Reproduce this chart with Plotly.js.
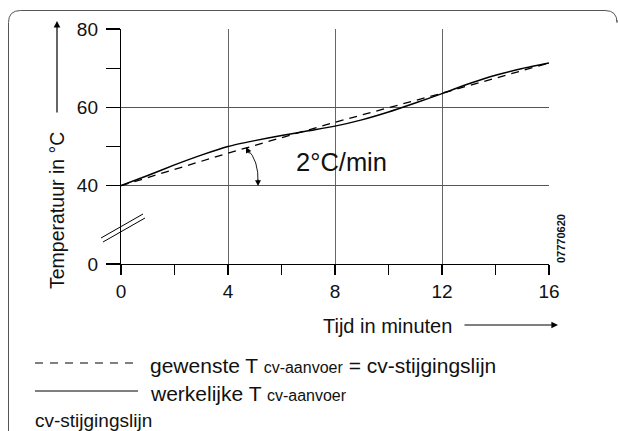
<!DOCTYPE html>
<html>
<head>
<meta charset="utf-8">
<script src="https://cdn.plot.ly/plotly-3.0.1.min.js"></script>
<style>html,body{margin:0;padding:0;background:#fff;}#chart{width:618px;height:431px;}</style>
</head>
<body>
<div id="chart"></div>
<script>
// ---- data ----
const timeMinutes = [0,1,2,3,4,5,6,7,8,9,10,11,12,13,14,15,16];
const actualTemp  = [40,42.6,45.3,47.8,50,51.5,52.8,54,55.2,56.8,58.8,61.1,63.5,66,68.2,69.9,71.3];
const desiredTime = [0,4,8,12,16];
const desiredTemp = [40,48.3,56.2,63.6,71.3];
const xTickVals = [0,4,8,12,16];
const xMinorVals = [2,6,10,14];
const yTickVals = [20,40,60,80];      // broken axis: the lowest grid step stands for 0
const yTickText = ['0','40','60','80'];
const yMinorVals = [50,70];

const FONT = '"Liberation Sans", Arial, Helvetica, sans-serif';
const L = 121, T = 29, PW = 428, PH = 235;
const px = x => (x - L) / PW;
const py = y => (T + PH - y) / PH;

const traces = [
  {x: desiredTime, y: desiredTemp, mode: 'lines', type: 'scatter',
   line: {color: '#000', width: 1.3, dash: '8px,6px'}, hoverinfo: 'skip'},
  {x: timeMinutes, y: actualTemp, mode: 'lines', type: 'scatter',
   line: {color: '#000', width: 1.5, shape: 'spline', smoothing: 0.6}, hoverinfo: 'skip'}
];

function seg(x0, y0, x1, y1, extra) {
  return Object.assign({type: 'line', xref: 'paper', yref: 'paper',
    x0: px(x0), y0: py(y0), x1: px(x1), y1: py(y1),
    line: {color: '#000', width: 1}}, extra || {});
}
function P(x, y) { return px(x).toFixed(5) + ',' + py(y).toFixed(5); }

const r = 12;
const borderPath = 'M ' + P(8.5, 433) + ' L ' + P(8.5, 10.5 + r) +
  ' Q ' + P(8.5, 10.5) + ' ' + P(8.5 + r, 10.5) +
  ' L ' + P(617 - r, 10.5) + ' Q ' + P(617, 10.5) + ' ' + P(617, 10.5 + r) + ' L ' + P(617, 20);

const shapes = [
  {type: 'path', xref: 'paper', yref: 'paper', path: borderPath, line: {color: '#555', width: 1}},
  // axis break marks
  seg(101, 238, 143, 214, {line: {color: '#000', width: 1}}),
  seg(103, 242, 145, 218, {line: {color: '#000', width: 1}}),
  // arc of the 2°C/min annotation
  {type: 'path', xref: 'paper', yref: 'paper',
   path: 'M ' + P(247, 149) + ' Q ' + P(259, 160) + ' ' + P(258, 183),
   line: {color: '#000', width: 0.9}},
  // legend line samples
  seg(35, 363, 137, 363, {line: {color: '#000', width: 1, dash: '8px,7px'}}),
  seg(35, 391, 138, 391, {line: {color: '#000', width: 1}})
];

function arrow(hx, hy, ax, ay, w, size) {
  return {xref: 'paper', yref: 'paper', x: px(hx), y: py(hy), ax: ax, ay: ay,
    axref: 'pixel', ayref: 'pixel', text: '', showarrow: true,
    arrowhead: 2, arrowsize: size || 1, arrowwidth: w || 1.2, arrowcolor: '#000', standoff: 0};
}
function txt(t, x, y, size, extra) {
  return Object.assign({xref: 'paper', yref: 'paper', x: px(x), y: py(y), text: t,
    showarrow: false, xanchor: 'left', yanchor: 'middle',
    font: {family: FONT, size: size, color: '#111'}}, extra || {});
}

const annotations = [
  arrow(57, 21, 0, 93, 1.2, 1.1),
  arrow(558, 325, -95, 0, 1.2, 1.1),
  arrow(246, 147, 4, 8, 0.9, 1.3),
  arrow(258, 186, 0, -8, 0.9, 1.3),
  txt('Temperatuur in °C', 57, 211, 19.5, {textangle: -90, xanchor: 'center'}),
  txt('Tijd in minuten', 387, 326, 20, {xanchor: 'center'}),
  txt('2°C/min', 341, 162, 25.5, {xanchor: 'center'}),
  txt('07770620', 561, 239, 11, {textangle: -90, xanchor: 'center', font: {family: FONT, size: 11, color: '#111', weight: 'bold'}}),
  txt('gewenste T <span style="font-size:16px">cv-aanvoer</span> = cv-stijgingslijn', 148, 365, 21),
  txt('werkelijke T <span style="font-size:16px">cv-aanvoer</span>', 148, 393, 21),
  txt('cv-stijgingslijn', 33, 420, 19)
];

const layout = {
  width: 618, height: 431,
  margin: {l: L, r: 618 - L - PW, t: T, b: 431 - T - PH, pad: 0},
  paper_bgcolor: '#fff', plot_bgcolor: '#fff',
  showlegend: false,
  font: {family: FONT, color: '#111'},
  xaxis: {
    range: [0, 16], tickvals: xTickVals, ticks: 'outside', ticklen: 10, tickwidth: 1.2, tickcolor: '#000',
    showline: true, linecolor: '#000', linewidth: 1.2, zeroline: false,
    showgrid: true, gridcolor: '#666', gridwidth: 1,
    minor: {tickvals: xMinorVals, ticks: 'outside', ticklen: 10, tickwidth: 1.2, tickcolor: '#000', showgrid: false},
    tickfont: {family: FONT, size: 19, color: '#111'}, fixedrange: true
  },
  yaxis: {
    range: [20, 80], tickvals: yTickVals, ticktext: yTickText, ticks: 'outside', ticklen: 14, tickwidth: 1.2, tickcolor: '#000',
    showline: true, linecolor: '#000', linewidth: 1.2, zeroline: false,
    showgrid: true, gridcolor: '#555', gridwidth: 1,
    minor: {tickvals: yMinorVals, ticks: 'outside', ticklen: 14, tickwidth: 1.2, tickcolor: '#000', showgrid: false},
    tickfont: {family: FONT, size: 19, color: '#111'}, ticklabelstandoff: 4, fixedrange: true
  },
  shapes: shapes,
  annotations: annotations
};

Plotly.newPlot('chart', traces, layout, {staticPlot: true, displayModeBar: false});
</script>
</body>
</html>
